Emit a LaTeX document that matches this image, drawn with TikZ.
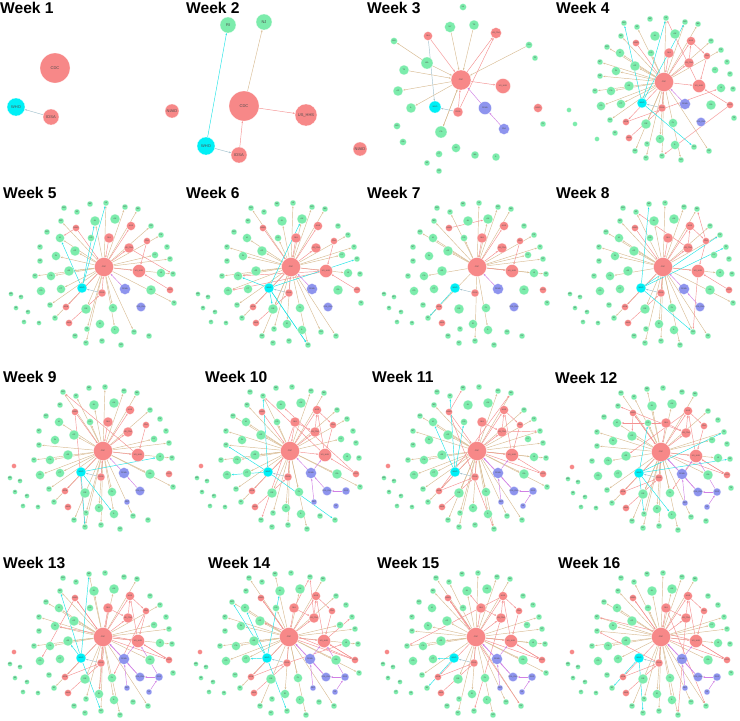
\documentclass[tikz,border=0pt]{standalone}
\usepackage{fontspec}
\setmainfont{Liberation Sans}
\usetikzlibrary{arrows.meta}

\definecolor{grnfill}{RGB}{124,236,172}
\definecolor{rdfill}{RGB}{247,136,136}
\definecolor{cyfill}{RGB}{0,240,246}
\definecolor{blfill}{RGB}{142,148,238}
\definecolor{tanedge}{RGB}{216,188,148}
\definecolor{pinkedge}{RGB}{244,146,146}
\definecolor{cyedge}{RGB}{30,228,230}
\definecolor{viedge}{RGB}{208,128,228}
\definecolor{gbedge}{RGB}{160,192,204}

\pgfdeclarelayer{edges}
\pgfsetlayers{edges,main}

\tikzset{
  vtx/.style={circle,inner sep=0pt,minimum size=#1pt,draw=white,line width=.2pt,font=\fontsize{2}{2.4}\selectfont,text=black!70},
  gnode/.style={vtx=#1,fill=grnfill},
  rnode/.style={vtx=#1,fill=rdfill},
  bnode/.style={vtx=#1,fill=blfill},
  wnode/.style={vtx=#1,fill=cyfill},
  big/.style={font=\fontsize{4}{4.8}\selectfont},
  lnk/.style={line width=.45pt,-{Stealth[length=2.2pt,width=1.6pt]}},
  tanline/.style={lnk,draw=tanedge},
  pinkline/.style={lnk,draw=pinkedge},
  cyline/.style={lnk,draw=cyedge},
  viline/.style={lnk,draw=viedge},
  gbline/.style={lnk,draw=gbedge},
  weektitle/.style={anchor=base west,inner sep=0pt,font=\fontsize{15.6}{16}\selectfont\bfseries}
}

% layout shared by the later weeks, relative to CDC
\def\greenlist{-9/-46/10/AL,11/-48/10/AK,-29/-16/10/AZ,-35/4/10/AR,-53/9/9/CA,-63/24/9/CO,-43/22/9/CT,-18/42/10/DE,9/41/9/FL,47/23/10/GA,57/6/9/HI,-4/57/9/ID,11/63/9/IL,-48/-11/9/IN,-44/-29/9/IA,-13/-29/7/KS,51/-12/7/KY,2/-64/6/LA,-14/-63/6/ME,21/-60/6/MD,34/-58/6/MA,-27/-55/6/MI,-40/-59/6/MN,-43/-46/6/MS,-57/-35/6/MO,-64/-20/6/MT,-64/-6/6/NE,-69/9/6/NV,-54/38/6/NH,-49/51/6/NJ,-29/69/6/NM,-18/76/6/NY,-2/74/6/NC,17/78/6/ND,30/65/6/OH,45/69/6/OK,47/-41/6/OR,57/-32/6/PA,63/-20/6/RI,66/-8/6/SC,69/7/6/SD,70/36/6/TN,-17/62/6/TX}
\def\redlist{35/4/13/US\_HHS,25/-19/10/US\_FDA,5/-29/10/NIH,27/-41/9/HHS,43/-26/7/FDA,-28/-39/7/NIAID,-2/26/8/IDSA,-38/40/7/ASM,-35/56/7/AMA,66/23/7/ACIP}
\def\isolist{-93/27/WA,-83/30/WV,-88/41/WI,-76/45/WY,-80/55/VT,-65/56/VA}
\def\redpairs{c/r1,c/r2,r3/c,c/r4,r5/r1,r6/c,r7/c,c/r8,r9/r7,r10/r1,r2/r4,r4/r5,r1/r4,r3/r2,c/r10,r8/r7,c/r6,r1/r10,r6/r3,c/r9}
\def\vipairs{b1/c,b2/b1,b4/b1,b1/r1,b3/b2,b5/b3,b2/c,b3/r1,b1/r2,b5/b2}

\newcommand\weekmix[4]{\def\nrr{#1}\def\nrg{#2}\def\ncy{#3}\def\nvi{#4}}

\newcommand\denseweek[8]{%
  % #1 name, #2/#3 CDC, #4 title x, #5 title, #6 stage, #7 seed, #8 share of CDC links
  \def\pn{#1}
  \node[weektitle] (\pn-title) at (#4,#3-69) {#5};
  \begin{scope}[shift={(#2,#3)}]
    \node[rnode=19] (\pn-c) at (0,0) {CDC};
    \foreach \dx/\dy/\d/\lab [count=\i] in \greenlist {\node[gnode=\d] (\pn-g\i) at (\dx,\dy) {\lab};}
    \foreach \dx/\dy/\d/\lab [count=\i] in \redlist {\node[rnode=\d] (\pn-r\i) at (\dx,\dy) {\lab};}
    \node[wnode=10] (\pn-w) at (-22,21) {WHO};
    \node[bnode=11] (\pn-b1) at (21,22) {FEMA};
    \node[bnode=9] (\pn-b2) at (37,40) {FDA\_EUA};
    \ifnum#6>2\relax \node[bnode=6] (\pn-b4) at (24,51) {NSF};\fi
    \ifnum#6>3\relax
      \node[bnode=8] (\pn-b3) at (56,40) {DOD};
      \node[bnode=6] (\pn-b5) at (46,55) {VA};
    \fi
    \ifnum#6=1\relax
      \foreach \dx/\dy [count=\i] in {-95/28,-89/42,-67/57} {\node[gnode=5] (\pn-s\i) at (\dx,\dy) {};}
    \else
      \foreach \dx/\dy/\lab [count=\i] in \isolist {\node[gnode=5] (\pn-s\i) at (\dx,\dy) {\lab};}
    \fi
    \ifnum#6>2\relax \node[rnode=5] (\pn-s0) at (-89,15) {};\fi
  \end{scope}
  \begin{pgfonlayer}{edges}
    \pgfmathsetseed{#7}
    \foreach \i in {1,...,43}{\pgfmathsetmacro\u{rnd}\ifdim\u pt<#8pt\relax\draw[tanline] (\pn-c) -- (\pn-g\i);\fi}
    \foreach \a/\b [count=\k] in \redpairs {\ifnum\k>\nrr\relax\else\draw[pinkline] (\pn-\a) -- (\pn-\b);\fi}
    \foreach \k in {1,...,\nrg}{\pgfmathrandominteger{\a}{1}{10}\pgfmathrandominteger{\b}{1}{43}\draw[pinkline] (\pn-r\a) -- (\pn-g\b);}
    \foreach \k in {1,...,\ncy}{\pgfmathrandominteger{\b}{1}{43}\draw[cyline] (\pn-w) -- (\pn-g\b);}
    \foreach \a/\b [count=\k] in \vipairs {\ifnum\k>\nvi\relax\else\draw[viline] (\pn-\a) -- (\pn-\b);\fi}
    \draw[gbline] (\pn-r7) -- (\pn-w);
  \end{pgfonlayer}
}

\begin{document}
\begin{tikzpicture}[x=1pt,y=-1pt]
\useasboundingbox (0,0) rectangle (740,721);

% Week 1
\node[weektitle] (t1) at (0,13) {Week 1};
\node[rnode=30,big] (a-cdc) at (55,68) {CDC};
\node[wnode=18,big] (a-who) at (16,107) {WHO};
\node[rnode=16,big] (a-idsa) at (51,117) {IDSA};
\node[rnode=14,big] (a-niaid) at (172,111) {NIAID};
\begin{pgfonlayer}{edges}
\draw[gbline] (a-idsa) -- (a-who);
\end{pgfonlayer}

% Week 2
\node[weektitle] (t2) at (186,13) {Week 2};
\node[gnode=16,big] (b-ri) at (228,25) {RI};
\node[gnode=16,big] (b-nj) at (264,22) {NJ};
\node[rnode=30,big] (b-cdc) at (244,106) {CDC};
\node[rnode=22,big] (b-hhs) at (306,115) {US\_HHS};
\node[wnode=18,big] (b-who) at (206,146) {WHO};
\node[rnode=16,big] (b-idsa) at (239,155) {IDSA};
\node[rnode=14,big] (b-niaid) at (360,149) {NIAID};
\begin{pgfonlayer}{edges}
\draw[cyline] (b-who) -- (b-ri);
\draw[tanline] (b-cdc) -- (b-nj);
\draw[pinkline] (b-cdc) -- (b-hhs);
\draw[pinkline] (b-idsa) -- (b-cdc);
\draw[gbline] (b-who) -- (b-idsa);
\end{pgfonlayer}

% Week 3
\node[weektitle] (t3) at (367,13) {Week 3};
\node[rnode=20] (c-cdc) at (461,80) {CDC};
\node[rnode=15] (c-hhs) at (503,86) {US\_HHS};
\node[rnode=9] (c-nih) at (428,36) {NIH};
\node[rnode=11] (c-fda) at (496,33) {US\_FDA};
\node[rnode=10] (c-idsa) at (458,112) {IDSA};
\node[rnode=9] (c-niaid) at (538,108) {NIAID};
\node[wnode=12] (c-who) at (435,107) {WHO};
\node[bnode=13] (c-fema) at (485,108) {FEMA};
\node[bnode=11] (c-eua) at (504,129) {FDA};
\foreach \x/\y/\d/\lab [count=\i] in {463/7/7/VA,450/27/11/NY,474/25/10/TN,394/41/7/MN,529/45/7/OH,535/58/6/RI,427/63/12/WA,404/70/10/TX,398/91/10/AZ,411/108/10/IL,441/132/12/CA,397/126/7/MD,403/142/7/GA,456/148/9/NC,439/154/7/CT,475/155/8/MA,496/157/8/IL,427/163/6/MI,439/171/6/OR,543/124/6/FL}
  \node[gnode=\d] (c-g\i) at (\x,\y) {\lab};
\begin{pgfonlayer}{edges}
\foreach \i in {2,3,7,8,11,5}
  \draw[tanline] (c-g\i) -- (c-cdc);
\foreach \i in {9,10,11}
  \draw[tanline] (c-cdc) -- (c-g\i);
\draw[tanline] (c-g7) -- (c-g4);
\draw[pinkline] (c-cdc) -- (c-hhs);
\draw[pinkline] (c-cdc) -- (c-fda);
\draw[pinkline] (c-idsa) -- (c-fda);
\draw[pinkline] (c-idsa) -- (c-cdc);
\draw[pinkline] (c-nih) -- (c-cdc);
\draw[gbline] (c-nih) -- (c-who);
\draw[gbline] (c-idsa) -- (c-who);
\draw[viline] (c-eua) -- (c-fema);
\draw[viline] (c-fema) -- (c-cdc);
\end{pgfonlayer}

% Weeks 4 to 16
\weekmix{12}{3}{4}{1}\denseweek{d4}{664}{82}{556}{Week 4}{1}{4}{.65}
\weekmix{10}{2}{3}{1}\denseweek{d5}{104}{267}{3}{Week 5}{2}{5}{.55}
\weekmix{10}{2}{6}{1}\denseweek{d6}{291}{267}{186}{Week 6}{2}{6}{.6}
\weekmix{5}{1}{1}{1}\denseweek{d7}{477}{267}{367}{Week 7}{2}{7}{.4}
\weekmix{12}{3}{4}{2}\denseweek{d8}{663}{267}{556}{Week 8}{2}{8}{.6}
\weekmix{8}{2}{3}{2}\denseweek{d9}{103}{451}{3}{Week 9}{3}{9}{.55}
\weekmix{14}{3}{4}{5}\denseweek{d10}{290}{451}{205}{Week 10}{4}{10}{.65}
\weekmix{16}{4}{3}{7}\denseweek{d11}{477}{451}{372}{Week 11}{4}{11}{.65}
\weekmix{18}{5}{5}{8}\denseweek{d12}{661}{452}{555}{Week 12}{4}{12}{.7}
\weekmix{18}{4}{4}{8}\denseweek{d13}{103}{637}{3}{Week 13}{4}{13}{.65}
\weekmix{18}{5}{5}{8}\denseweek{d14}{289}{637}{208}{Week 14}{4}{14}{.7}
\weekmix{18}{4}{2}{7}\denseweek{d15}{476}{637}{377}{Week 15}{4}{15}{.65}
\weekmix{18}{4}{2}{7}\denseweek{d16}{661}{637}{558}{Week 16}{4}{16}{.65}
\end{tikzpicture}
\end{document}
